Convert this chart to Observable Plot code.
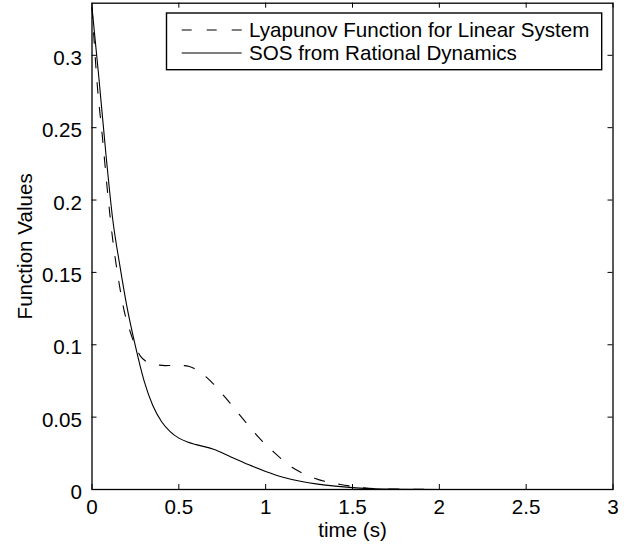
<!DOCTYPE html>
<html>
<head>
<meta charset="utf-8">
<script src="https://cdn.jsdelivr.net/npm/d3@7"></script>
<script src="https://cdn.jsdelivr.net/npm/@observablehq/plot@0.6"></script>
<style>
  html, body { margin: 0; padding: 0; background: #fff; }
  #wrap { position: relative; width: 635px; height: 548px; }
  #legend { position: absolute; left: 0; top: 0; }
</style>
</head>
<body>
<div id="wrap"></div>
<script>
// ---- data ----
const seriesNames = ["Lyapunov Function for Linear System", "SOS from Rational Dynamics"];

const timeLinear = [0, 0.03, 0.06, 0.09, 0.12, 0.15, 0.19, 0.22, 0.25, 0.28, 0.32, 0.36, 0.42, 0.5, 0.56, 0.6, 0.65, 0.7, 0.75, 0.8, 0.85, 0.9, 0.96, 1.05, 1.15, 1.25, 1.3, 1.43, 1.55, 1.7, 1.9, 2.2, 2.6, 3.0];
const valuesLinear = [0.333, 0.280, 0.2435, 0.205, 0.172, 0.147, 0.121, 0.109, 0.099, 0.092, 0.088, 0.0866, 0.0856, 0.0858, 0.085, 0.0828, 0.0785, 0.0728, 0.066, 0.059, 0.0515, 0.0445, 0.036, 0.0255, 0.0155, 0.0092, 0.007, 0.0035, 0.0014, 0.0004, 0.0001, 0, 0, 0];

const timeSOS = [0, 0.04, 0.08, 0.12, 0.16, 0.2, 0.25, 0.3, 0.35, 0.4, 0.45, 0.5, 0.55, 0.6, 0.7, 0.8, 0.9, 1.0, 1.1, 1.2, 1.3, 1.4, 1.5, 1.6, 1.8, 2.0, 2.5, 3.0];
const valuesSOS = [0.333, 0.284, 0.232, 0.186, 0.155, 0.127, 0.099, 0.075, 0.058, 0.047, 0.040, 0.0355, 0.0328, 0.031, 0.0278, 0.0225, 0.0172, 0.0125, 0.0085, 0.0057, 0.0037, 0.0023, 0.0013, 0.0007, 0.0002, 0.00005, 0, 0];

const xTicks = [0, 0.5, 1, 1.5, 2, 2.5, 3];
const xTickLabels = ["0", "0.5", "1", "1.5", "2", "2.5", "3"];
const yTicks = [0, 0.05, 0.1, 0.15, 0.2, 0.25, 0.3];
const yTickLabels = ["0", "0.05", "0.1", "0.15", "0.2", "0.25", "0.3"];
const xLabel = "time (s)";
const yLabel = "Function Values";

// ---- layout ----
const W = 635, H = 548;
const mL = 91.5, mR = 22.5, mT = 2.7, mB = 59;
const frameW = W - mL - mR, frameH = H - mT - mB;
const font = "'Liberation Sans', Arial, Helvetica, sans-serif";
const fs = 20.6;

const linear = timeLinear.map((t, i) => ({t, v: valuesLinear[i]}));
const sos = timeSOS.map((t, i) => ({t, v: valuesSOS[i]}));
const tick = 5;

const chart = Plot.plot({
  width: W, height: H,
  marginLeft: mL, marginRight: mR, marginTop: mT, marginBottom: mB,
  style: {fontFamily: font, fontSize: fs + "px", background: "#fff", color: "#000", overflow: "visible"},
  x: {domain: [0, 3]},
  y: {domain: [0, 0.336]},
  marks: [
    Plot.line(linear, {x: "t", y: "v", stroke: "#000", strokeWidth: 1.1, strokeDasharray: "10.5,14.5", curve: "monotone-x"}),
    Plot.line(sos, {x: "t", y: "v", stroke: "#000", strokeWidth: 1.1, curve: "monotone-x"}),
    // inward ticks on all four sides
    Plot.tickX(xTicks, {x: d => d, stroke: "#000", strokeWidth: 1, insetTop: frameH - tick}),
    Plot.tickX(xTicks, {x: d => d, stroke: "#000", strokeWidth: 1, insetBottom: frameH - tick}),
    Plot.tickY(yTicks, {y: d => d, stroke: "#000", strokeWidth: 1, insetRight: frameW - tick}),
    Plot.tickY(yTicks, {y: d => d, stroke: "#000", strokeWidth: 1, insetLeft: frameW - tick}),
    Plot.axisX(xTicks, {anchor: "bottom", tickSize: 0, tickPadding: 10, tickFormat: (d, i) => xTickLabels[i], label: null, fontSize: fs}),
    Plot.axisY(yTicks, {anchor: "left", tickSize: 0, tickPadding: 10, tickFormat: (d, i) => yTickLabels[i], label: null, dy: 3, fontSize: fs}),
    Plot.text([xLabel], {frameAnchor: "bottom", text: d => d, textAnchor: "middle", lineAnchor: "bottom", dy: 47.5, fontSize: fs, fill: "#000"}),
    Plot.text([yLabel], {frameAnchor: "left", text: d => d, textAnchor: "middle", rotate: -90, lineAnchor: "bottom", dx: -60, fontSize: fs, fill: "#000"}),
    Plot.frame({stroke: "#000", strokeWidth: 1.3})
  ]
});

const wrap = document.getElementById("wrap");
wrap.appendChild(chart);

// ---- legend (inside axes, top-right) ----
const ns = "http://www.w3.org/2000/svg";
const lg = document.createElementNS(ns, "svg");
lg.setAttribute("id", "legend");
lg.setAttribute("width", W);
lg.setAttribute("height", 80);
lg.style.fontFamily = font;
lg.style.fontSize = fs + "px";
const box = {x: 166.5, y: 13, w: 435.2, h: 56.7};
const rect = document.createElementNS(ns, "rect");
rect.setAttribute("x", box.x); rect.setAttribute("y", box.y);
rect.setAttribute("width", box.w); rect.setAttribute("height", box.h);
rect.setAttribute("fill", "#fff"); rect.setAttribute("stroke", "#000"); rect.setAttribute("stroke-width", 1.4);
lg.appendChild(rect);
const rows = [{name: seriesNames[0], dash: "10,15", cy: 30}, {name: seriesNames[1], dash: null, cy: 53}];
rows.forEach(r => {
  const ln = document.createElementNS(ns, "line");
  ln.setAttribute("x1", 181.7); ln.setAttribute("x2", 241.7);
  ln.setAttribute("y1", r.cy); ln.setAttribute("y2", r.cy);
  ln.setAttribute("stroke", "#000"); ln.setAttribute("stroke-width", 1.1);
  if (r.dash) ln.setAttribute("stroke-dasharray", r.dash);
  lg.appendChild(ln);
  const tx = document.createElementNS(ns, "text");
  tx.setAttribute("x", 249); tx.setAttribute("y", r.cy + 7.3);
  tx.setAttribute("fill", "#000");
  tx.textContent = r.name;
  lg.appendChild(tx);
});
wrap.appendChild(lg);
</script>
</body>
</html>
